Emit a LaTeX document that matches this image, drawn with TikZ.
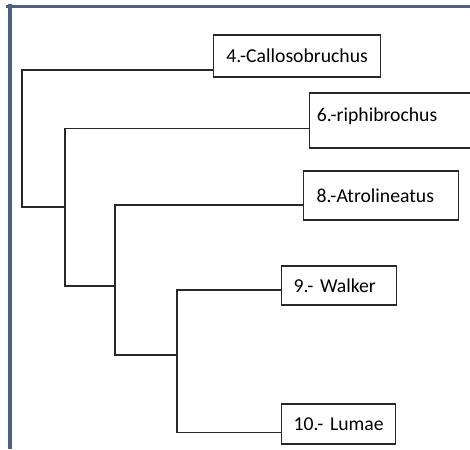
\documentclass[tikz,border=0pt]{standalone}
\usepackage{fontspec}
\setmainfont{Carlito}
\definecolor{framecol}{RGB}{79, 97, 128}
\definecolor{linegray}{RGB}{40, 40, 40}
\usepackage{tikz}
\usetikzlibrary{positioning, calc}

\begin{document}
\begin{tikzpicture}[
  taxon/.style={draw=linegray, line width=0.9pt, anchor=west, align=left, inner xsep=0.3cm,
                inner ysep=0pt, font=\fontsize{14}{16}\selectfont},
  branch/.style={draw=linegray, line width=0.9pt},
]
\useasboundingbox (0, 0) rectangle (11.75, 11.225);

% Frame on the left and top
\draw[framecol, line width=2.8pt] (0.2575, 0) -- (0.2575, 11.12);
\draw[framecol, line width=2pt] (0.16, 11.07) -- (11.75, 11.07);

% Taxa
\node[taxon, text width=3.575cm, minimum height=1.05cm, align=center] (calloso) at (5.325, 9.825) {4.-Callosobruchus};
\node[taxon, text width=4.0cm, inner xsep=0.18cm, minimum height=1.375cm, text depth=0.3cm] (riphi) at (7.725, 8.2125) {6.-riphibrochus};
\node[taxon, text width=3.225cm, inner xsep=0.325cm, minimum height=1.225cm] (atrol) at (7.575, 6.3375) {8.-Atrolineatus};
\node[taxon, text width=2.275cm, minimum height=0.975cm] (walker) at (7.025, 4.0875) {9.- Walker};
\node[taxon, text width=2.25cm, minimum height=1.0cm] (lumae) at (7.025, 0.625) {10.- Lumae};

% Joints of the tree
\coordinate (j1) at (0.55, 6.05);
\coordinate (j2) at (1.625, 6.05);
\coordinate (j3) at (2.875, 4.075);
\coordinate (j4) at (4.425, 2.35);

% Branches
\draw[branch] ([yshift=-0.35cm]calloso.west) -| (j1) -- (j2);
\draw[branch] ([yshift=-0.2cm]riphi.west) -| (j2) |- (j3);
\draw[branch] ([yshift=-0.24cm]atrol.west) -| (j3) |- (j4);
\draw[branch] ([yshift=-0.11cm]walker.west) -| (j4) |- ([yshift=-0.22cm]lumae.west);
\end{tikzpicture}
\end{document}
